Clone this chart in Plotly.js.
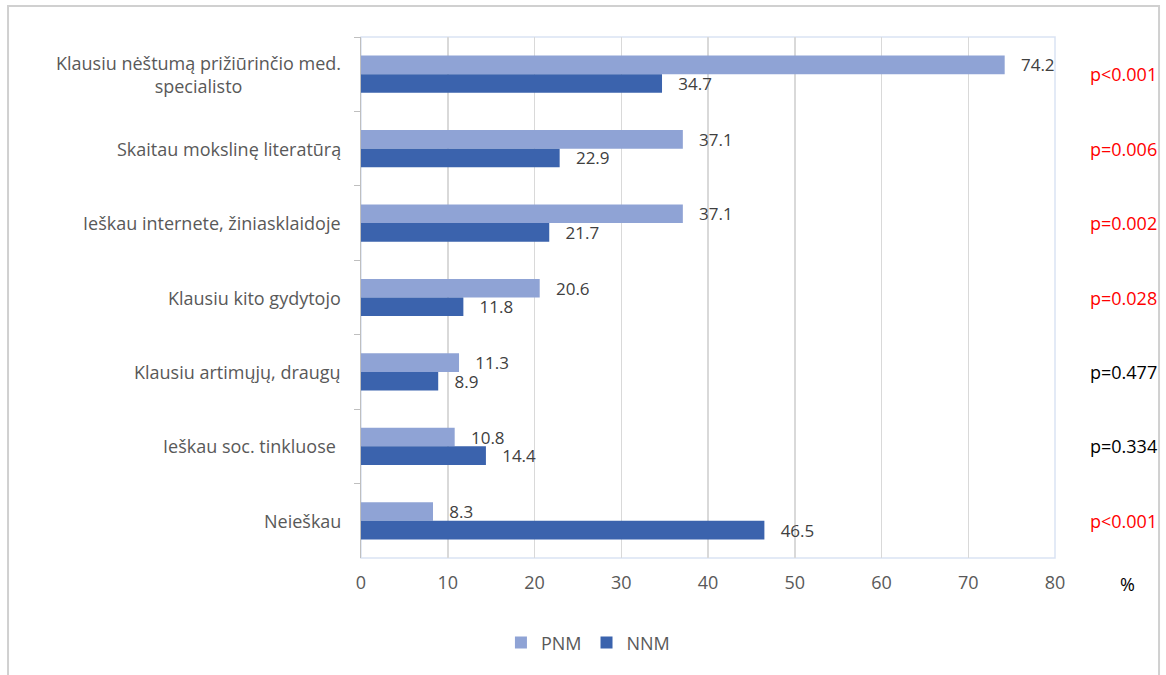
<!DOCTYPE html>
<html>
<head>
<meta charset="utf-8">
<script src="https://cdn.plot.ly/plotly-3.0.1.min.js"></script>
<style>html,body{margin:0;padding:0;background:#fff;}#chart{width:1166px;height:675px;}</style>
</head>
<body>
<div id="chart"></div>
<script>
const categories = [
  "Klausiu nėštumą prižiūrinčio med.<br>specialisto",
  "Skaitau mokslinę literatūrą",
  "Ieškau internete, žiniasklaidoje",
  "Klausiu kito gydytojo",
  "Klausiu artimųjų, draugų",
  "Ieškau soc. tinkluose ",
  "Neieškau"
];
const pnmValues = [74.2, 37.1, 37.1, 20.6, 11.3, 10.8, 8.3];
const nnmValues = [34.7, 22.9, 21.7, 11.8, 8.9, 14.4, 46.5];
const pValues = ["p<0.001", "p=0.006", "p=0.002", "p=0.028", "p=0.477", "p=0.334", "p<0.001"];
const seriesNames = ["PNM", "NNM"];
const xTicks = [0, 10, 20, 30, 40, 50, 60, 70, 80];

const FONT = "'Open Sans', 'Noto Sans', sans-serif";
const FS = 18;
const PAD = "\u00a0\u00a0\u00a0";

const traces = [
  {type: "bar", orientation: "h", name: seriesNames[0], y: categories, x: pnmValues,
   marker: {color: "#8FA3D5"}, text: pnmValues.map(v => PAD + v.toFixed(1)),
   textposition: "outside", constraintext: "none", cliponaxis: false,
   textfont: {family: FONT, size: 17, color: "#404040"}, hoverinfo: "x+name"},
  {type: "bar", orientation: "h", name: seriesNames[1], y: categories, x: nnmValues,
   marker: {color: "#3B63AD"}, text: nnmValues.map(v => PAD + v.toFixed(1)),
   textposition: "outside", constraintext: "none", cliponaxis: false,
   textfont: {family: FONT, size: 17, color: "#404040"}, hoverinfo: "x+name"}
];

function pColor(p) {
  const num = parseFloat(p.slice(2));
  return num < 0.05 ? "#FF0000" : "#000000";
}

const annotations = [];
categories.forEach((c, i) => {
  annotations.push({xref: "paper", yref: "y", x: -0.026, y: c, xanchor: "right", yanchor: "middle",
    align: "center", showarrow: false, text: c, font: {family: FONT, size: FS, color: "#595959"}});
  annotations.push({xref: "paper", yref: "y", x: 1.098, y: c, xanchor: "center", yanchor: "middle",
    showarrow: false, text: pValues[i], font: {family: FONT, size: FS, color: pColor(pValues[i])}});
});
annotations.push({xref: "paper", yref: "paper", x: 1.104, y: -0.05, xanchor: "center", yanchor: "middle",
  showarrow: false, text: "%", font: {family: FONT, size: FS, color: "#000000"}});

const layout = {
  width: 1166, height: 675,
  margin: {l: 361, r: 111, t: 37, b: 117},
  paper_bgcolor: "#ffffff", plot_bgcolor: "#ffffff",
  barmode: "group", bargap: 0.5, bargroupgap: 0,
  font: {family: FONT, size: FS, color: "#595959"},
  showlegend: true,
  legend: {orientation: "h", x: 0.327, xanchor: "center", y: -0.163, yanchor: "middle",
    font: {family: FONT, size: FS, color: "#595959"}, traceorder: "normal"},
  xaxis: {range: [0, 80], tickvals: xTicks, ticktext: xTicks.map(String), showgrid: true,
    gridcolor: "#D9D9D9", gridwidth: 1.5, zeroline: false, showline: false, ticks: "",
    ticklabelstandoff: 12,
    tickfont: {family: FONT, size: FS, color: "#595959"}, fixedrange: true},
  yaxis: {autorange: "reversed", showticklabels: false, ticks: "outside", tickson: "boundaries",
    ticklen: 6, tickcolor: "#BFBFBF", tickwidth: 1, showline: true, linecolor: "#BFBFBF", linewidth: 1.5,
    showgrid: false, zeroline: false, fixedrange: true},
  annotations: annotations,
  shapes: [
    {type: "rect", xref: "paper", yref: "paper", x0: 0, x1: 1, y0: 0, y1: 1,
     line: {color: "#DAE3F3", width: 1.5}, layer: "below"},
    {type: "rect", xref: "paper", yref: "paper", x0: -0.5086, x1: 1.1499, y0: -0.25, y1: 1.0595,
     line: {color: "#D0D0D0", width: 2}, layer: "below"}
  ]
};

Plotly.newPlot("chart", traces, layout, {displayModeBar: false, staticPlot: true});
</script>
</body>
</html>
